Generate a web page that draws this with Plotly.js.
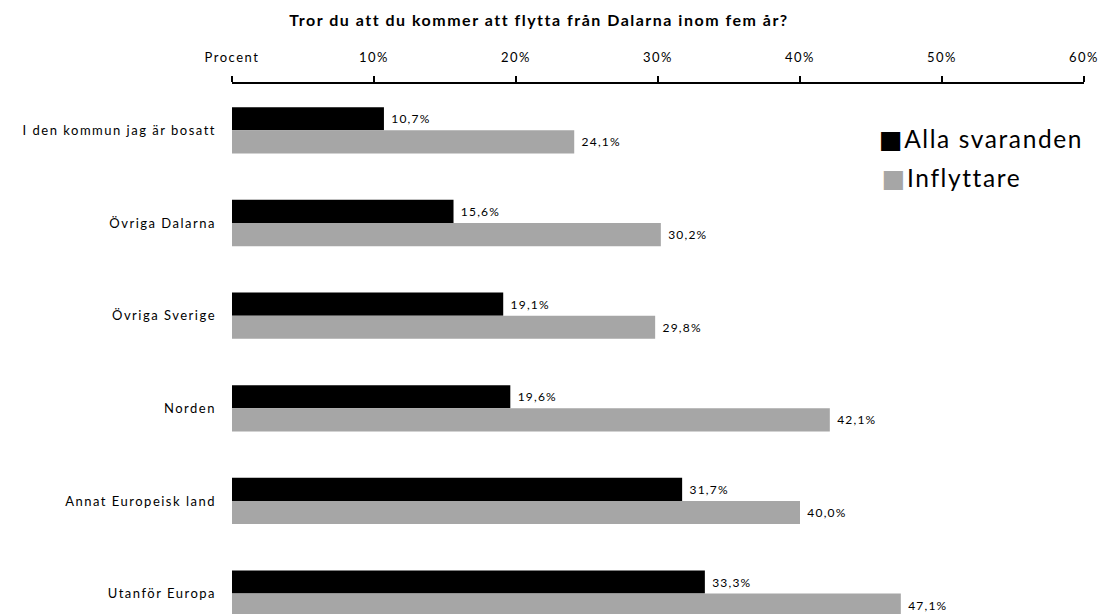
<!DOCTYPE html>
<html>
<head>
<meta charset="utf-8">
<script src="https://cdn.plot.ly/plotly-3.0.1.min.js"></script>
<style>
html,body{margin:0;padding:0;overflow:hidden;background:#fff;}
#chart .gtitle{letter-spacing:1.5px;}
#chart .xtick text, #chart .ytick text{letter-spacing:1.5px;}
#chart .bartext, #chart .textpoint text{letter-spacing:1.2px;}
#chart .annotation-text{letter-spacing:1.6px;}
</style>
</head>
<body>
<div id="chart" style="width:1099px;height:614px;"></div>
<script>
const categories = ["I den kommun jag är bosatt", "Övriga Dalarna", "Övriga Sverige", "Norden", "Annat Europeisk land", "Utanför Europa"];
const allaSvaranden = [10.7, 15.6, 19.1, 19.6, 31.7, 33.3];
const inflyttare = [24.1, 30.2, 29.8, 42.1, 40.0, 47.1];
const seriesNames = ["Alla svaranden", "Inflyttare"];
const seriesColors = ["#000000", "#a6a6a6"];
const tickVals = [0, 10, 20, 30, 40, 50, 60];
const tickText = ["Procent", "10%", "20%", "30%", "40%", "50%", "60%"];

const FONT = "Lato, 'Open Sans', sans-serif";
const series = [allaSvaranden, inflyttare];

const traces = series.map((vals, i) => ({
  type: "bar",
  orientation: "h",
  name: seriesNames[i],
  x: vals,
  y: categories,
  marker: {color: seriesColors[i]},
  texttemplate: "\u00a0\u00a0%{x:.1f}%",
  textposition: "outside",
  textfont: {family: FONT, size: 12, color: "#000"},
  cliponaxis: true,
  hoverinfo: "x+y"
}));

const legendAnn = seriesNames.map((n, i) => ({
  xref: "paper", yref: "paper",
  x: (889 - 232) / (1099 - 232 - 15),
  y: 1 - (139 - 84 + i * 39) / 530,
  xanchor: "left", yanchor: "middle",
  showarrow: false,
  text: '<span style="color:' + seriesColors[i] + ';font-family:DejaVu Sans;font-size:25px">■</span>' + n,
  font: {family: FONT, size: 24.5, color: "#000"}
}));

const layout = {
  width: 1099, height: 614,
  margin: {l: 232, r: 15, t: 84, b: 0},
  paper_bgcolor: "#fff", plot_bgcolor: "#fff",
  separators: ", ",
  showlegend: false,
  barmode: "group",
  bargap: 0.5,
  bargroupgap: 0,
  font: {family: FONT, color: "#000"},
  title: {
    text: "<b>Tror du att du kommer att flytta från Dalarna inom fem år?</b>",
    font: {family: FONT, size: 16, color: "#000"},
    x: 539 / 1099, xref: "container", xanchor: "center",
    y: 1 - 20 / 614, yref: "container", yanchor: "middle"
  },
  xaxis: {
    side: "top",
    range: [0, 60],
    tickvals: tickVals,
    ticktext: tickText,
    ticks: "outside",
    ticklen: 6,
    tickwidth: 2,
    tickcolor: "#000",
    showline: true,
    linecolor: "#000",
    linewidth: 2,
    showgrid: false,
    zeroline: false,
    ticklabelstandoff: 9,
    tickfont: {family: FONT, size: 13, color: "#000"},
    fixedrange: true
  },
  yaxis: {
    type: "category",
    range: [5.22, -0.5],
    showline: false,
    showgrid: false,
    zeroline: false,
    ticks: "",
    ticklabelstandoff: 15,
    tickfont: {family: FONT, size: 13, color: "#000"},
    fixedrange: true
  },
  annotations: legendAnn
};

Plotly.newPlot("chart", traces, layout, {displayModeBar: false, staticPlot: true});
</script>
</body>
</html>
